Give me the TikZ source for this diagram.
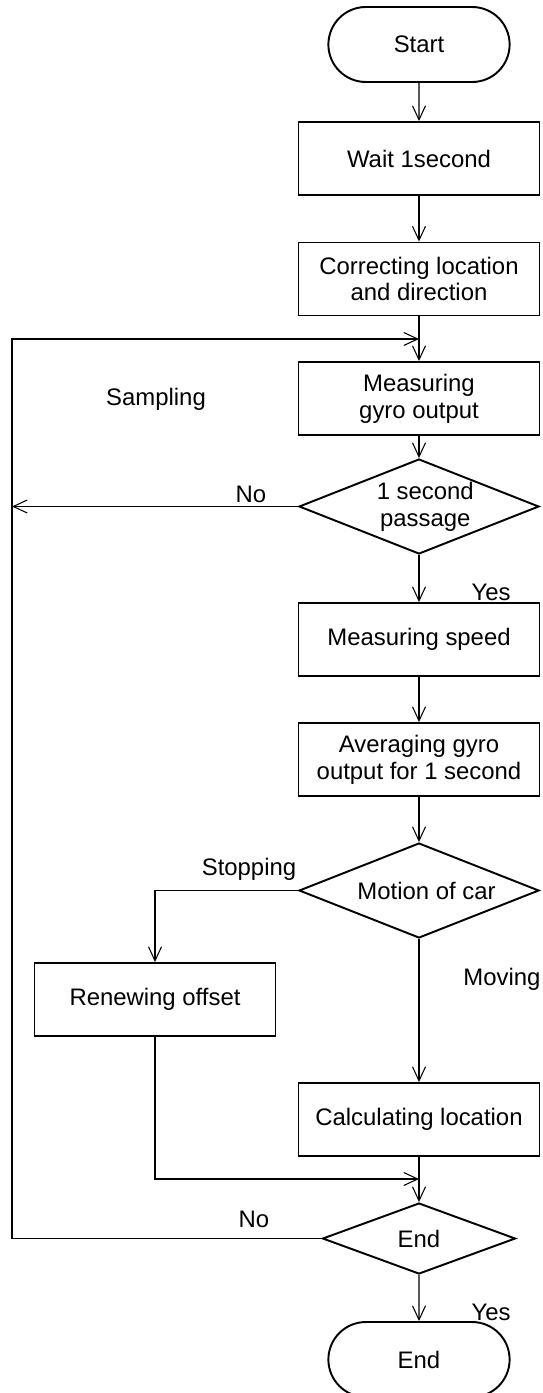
\documentclass[tikz,border=0pt]{standalone}
\usepackage{fontspec}
\setmainfont{Liberation Sans}
\usetikzlibrary{arrows.meta,shapes.geometric,shapes.misc}
\definecolor{flowInk}{HTML}{000000}
\tikzset{
  flowbox/.style={draw=flowInk, rectangle, line width=1.1pt, align=center,
                  minimum width=4.82cm, minimum height=1.46cm, inner sep=2pt},
  flowterm/.style={draw=flowInk, rounded rectangle, line width=1.1pt,
                   minimum width=3.86cm, minimum height=1.5cm},
  flowdec/.style={draw=flowInk, diamond, aspect=2.5, line width=1.1pt, align=center, inner sep=0pt,
                  minimum width=4.8cm, minimum height=1.9cm},
  flowlabel/.style={text=flowInk, inner sep=0pt},
  flowarrow/.style={-{Straight Barb[length=0.28cm, width=0.26cm]}, line width=0.6pt, draw=flowInk}
}
\begin{document}
\begin{tikzpicture}[x=0.02cm, y=-0.02cm,
  every node/.style={font=\fontsize{13.6}{15.3}\selectfont}]
\useasboundingbox (0,0) rectangle (543,1393);

% main column
\node[flowterm] (start) at (419,44.5) {Start};
\node[flowbox] (wait) at (419,158.5) {Wait 1second};
\node[flowbox] (correct) at (419,279) {Correcting location\\and direction};
\node[flowbox] (gyro) at (419,398.5) {Measuring\\gyro output};
\node[flowdec] (pass) at (419,506.5) {\hspace*{0.25cm}1 second\\\hspace*{0.25cm}passage};
\node[flowbox] (speed) at (419,639.5) {Measuring speed};
\node[flowbox] (avg) at (419,759.5) {Averaging gyro\\output for 1 second};
\node[flowdec] (motion) at (419,890.5) {\hspace*{0.3cm}Motion of car};
\node[flowbox] (renew) at (155,999.5) {Renewing offset};
\node[flowbox] (calc) at (419,1119.5) {Calculating location};
\node[flowdec, aspect=2.7, minimum width=3.86cm, minimum height=1.42cm] (endq) at (419,1238.5) {End};
\node[flowterm] (stop) at (419,1359.5) {End};

% loop points
\coordinate (rail) at (12,339);
\coordinate (joinA) at (419,339);
\coordinate (joinB) at (419,1179);

% connectors
\draw[flowarrow] (start) -- (wait);
\draw[flowarrow] (wait) -- (correct);
\draw[flowarrow] (correct) -- (gyro);
\draw[flowarrow] (gyro) -- (pass);
\draw[flowarrow] (pass.west) -- (pass.west -| rail);
\draw[flowarrow] (pass) -- (speed);
\draw[flowarrow] (speed) -- (avg);
\draw[flowarrow] (avg) -- (motion);
\draw[flowarrow] (motion.west) -| (renew.north);
\draw[flowarrow] (motion) -- (calc);
\draw[flowarrow] (renew.south) |- (joinB);
\draw[flowarrow] (calc) -- (endq);
\draw[flowarrow] (endq.west) -| (rail) -- (joinA);
\draw[flowarrow] (endq) -- (stop);

% labels
\node[flowlabel] (sampling) at (156,399) {Sampling};
\node[flowlabel] (no1) at (251,494) {No};
\node[flowlabel] (yes1) at (491,592) {Yes};
\node[flowlabel] (stopping) at (249,869) {Stopping};
\node[flowlabel] (moving) at (502,979) {Moving};
\node[flowlabel] (no2) at (254,1219) {No};
\node[flowlabel] (yes2) at (491,1312) {Yes};

\end{tikzpicture}
\end{document}
